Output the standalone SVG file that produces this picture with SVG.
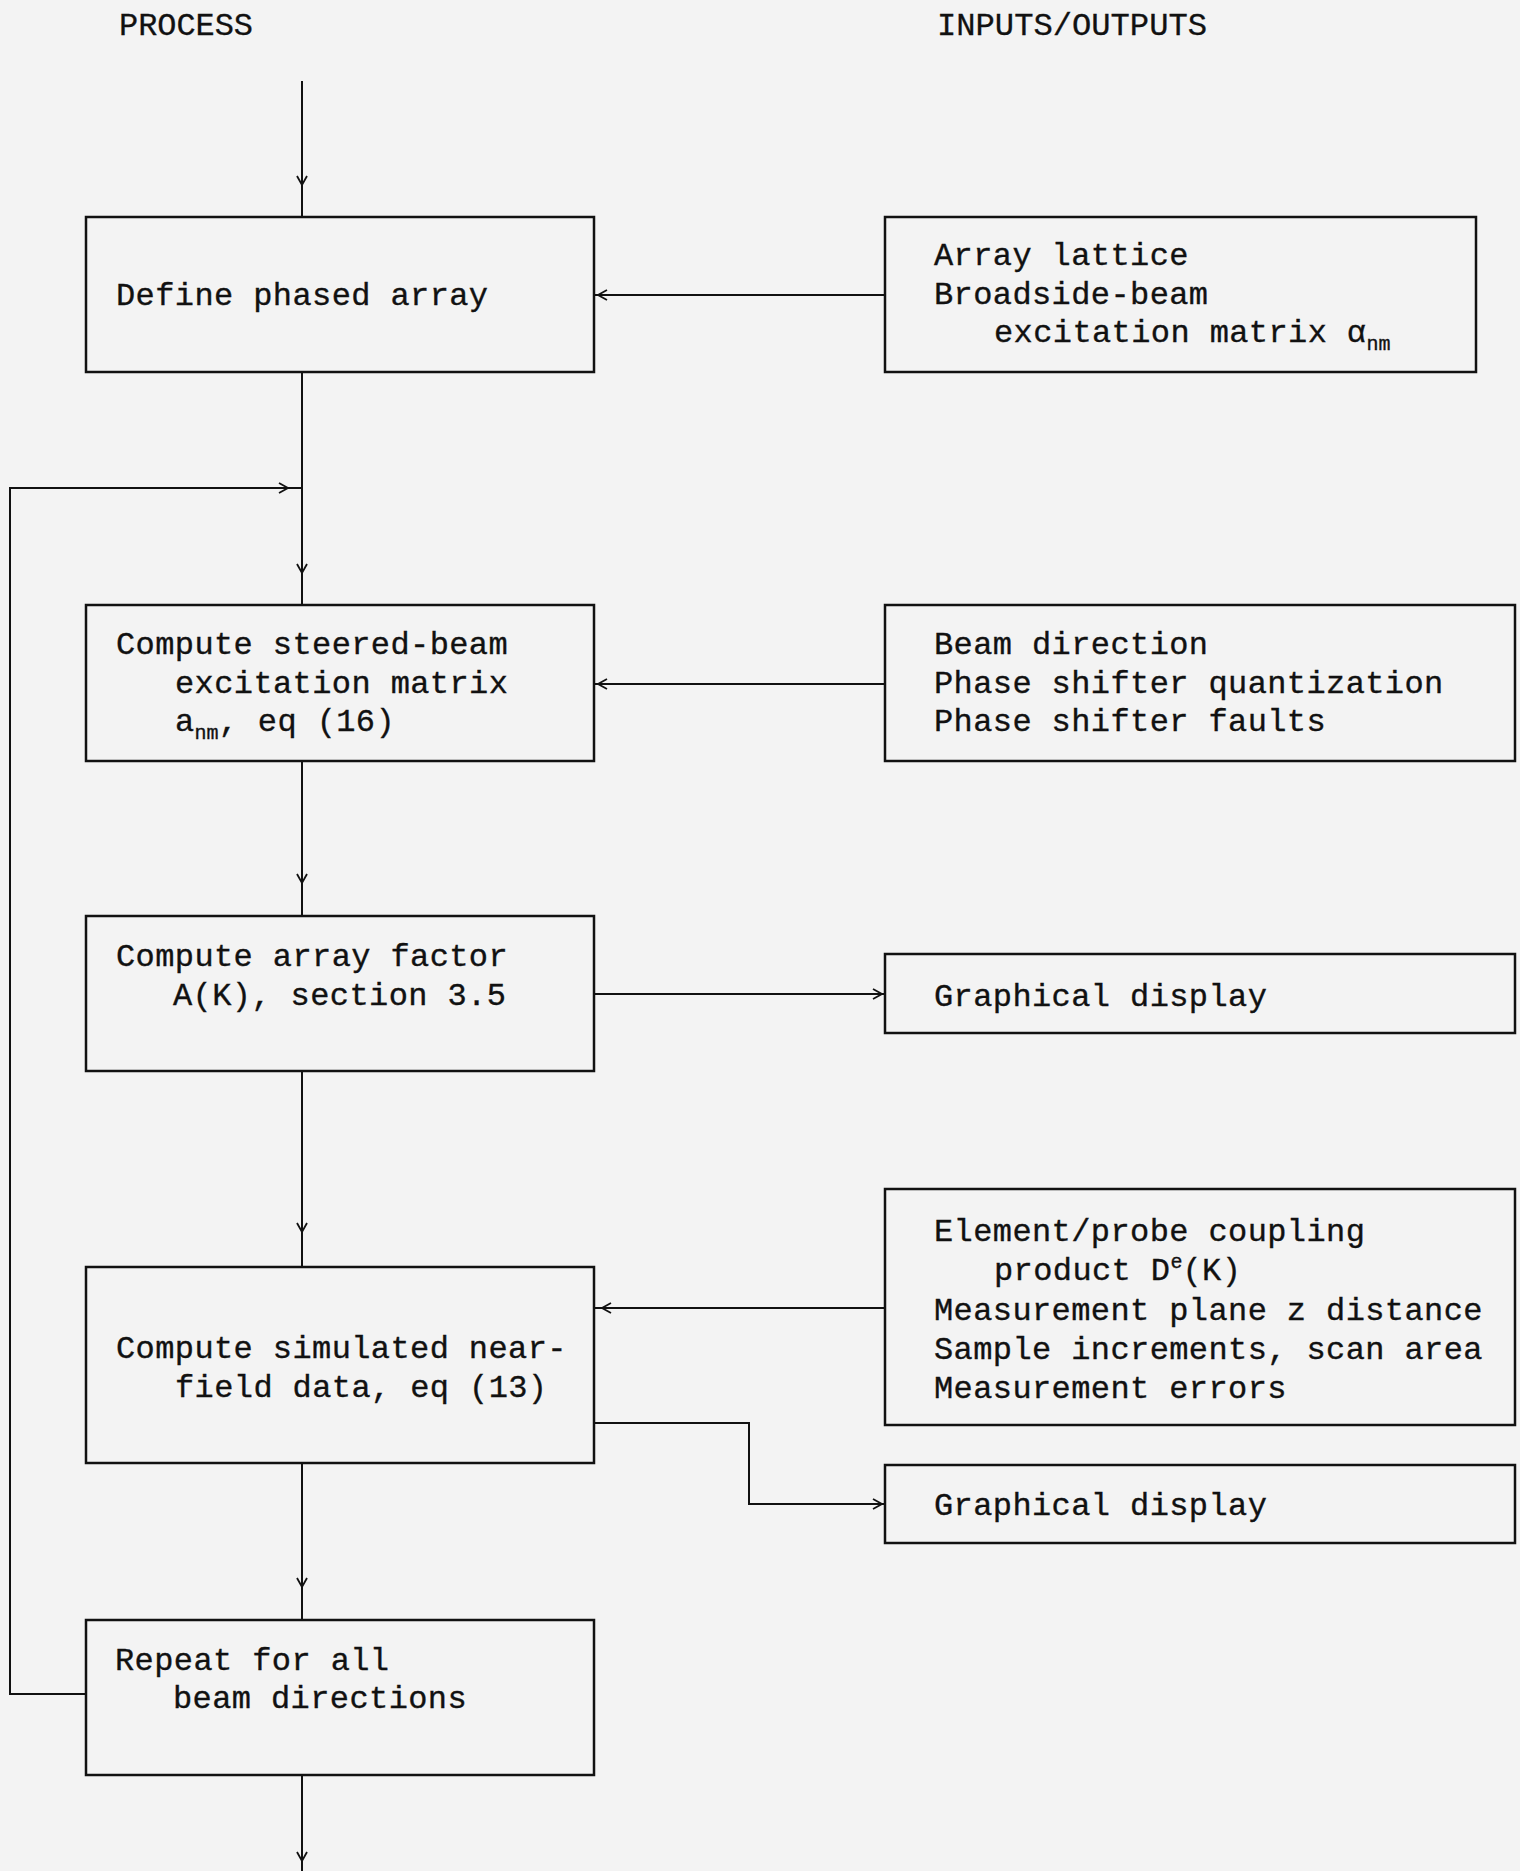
<svg xmlns="http://www.w3.org/2000/svg" width="1520" height="1871" viewBox="0 0 1520 1871">
<style>
.bg{fill:#f3f3f3}
.box{fill:none;stroke:#111;stroke-width:2.5}
.t{font-family:"Liberation Mono","DejaVu Sans Mono",monospace;font-size:32px;letter-spacing:0.4px;fill:#111;stroke:#111;stroke-width:0.35}
.h{font-family:"Liberation Mono","DejaVu Sans Mono",monospace;font-size:31px;fill:#111;stroke:#111;stroke-width:0.3}
.c{fill:none;stroke:#111;stroke-width:2}
.ah{fill:none;stroke:#111;stroke-width:1.8}
.s{font-size:20px;letter-spacing:0}
</style>
<defs>
<path id="ah" d="M-9,-5 L0,0 L-9,5"/>
</defs>
<rect class="bg" x="0" y="0" width="1520" height="1871"/>
<g id="headers">
<text class="h" x="119" y="35" textLength="134" lengthAdjust="spacingAndGlyphs">PROCESS</text>
<text class="h" x="937" y="35" textLength="270" lengthAdjust="spacingAndGlyphs">INPUTS/OUTPUTS</text>
</g>
<g id="connectors">
<path class="c" d="M302,81 V217"/>
<use href="#ah" class="ah" transform="translate(302,185) rotate(90)"/>
<path class="c" d="M302,372 V605"/>
<use href="#ah" class="ah" transform="translate(302,573) rotate(90)"/>
<path class="c" d="M86,1694 H10 V488 H302"/>
<use href="#ah" class="ah" transform="translate(288,488)"/>
<path class="c" d="M885,295 H594"/>
<use href="#ah" class="ah" transform="translate(598,295) rotate(180)"/>
<path class="c" d="M885,684 H594"/>
<use href="#ah" class="ah" transform="translate(598,684) rotate(180)"/>
<path class="c" d="M302,761 V916"/>
<use href="#ah" class="ah" transform="translate(302,883) rotate(90)"/>
<path class="c" d="M594,994 H885"/>
<use href="#ah" class="ah" transform="translate(882,994)"/>
<path class="c" d="M302,1071 V1267"/>
<use href="#ah" class="ah" transform="translate(302,1232) rotate(90)"/>
<path class="c" d="M885,1308 H594"/>
<use href="#ah" class="ah" transform="translate(602,1308) rotate(180)"/>
<path class="c" d="M594,1423 H749 V1504 H885"/>
<use href="#ah" class="ah" transform="translate(882,1504)"/>
<path class="c" d="M302,1463 V1620"/>
<use href="#ah" class="ah" transform="translate(302,1587) rotate(90)"/>
<path class="c" d="M302,1775 V1871"/>
<use href="#ah" class="ah" transform="translate(302,1861) rotate(90)"/>
</g>
<g id="define">
<rect class="box" x="86" y="217" width="508" height="155"/>
<text class="t" x="116" y="305">Define phased array</text>
</g>
<g id="in-lattice">
<rect class="box" x="885" y="217" width="591" height="155"/>
<text class="t" x="934" y="265">Array lattice</text>
<text class="t" x="934" y="304">Broadside-beam</text>
<text class="t" x="994" y="342">excitation matrix α<tspan class="s" dy="8">nm</tspan></text>
</g>
<g id="steer">
<rect class="box" x="86" y="605" width="508" height="156"/>
<text class="t" x="116" y="654">Compute steered-beam</text>
<text class="t" x="175" y="693">excitation matrix</text>
<text class="t" x="175" y="731">a<tspan class="s" dy="8">nm</tspan><tspan dy="-8">, eq (16)</tspan></text>
</g>
<g id="in-beam">
<rect class="box" x="885" y="605" width="630" height="156"/>
<text class="t" x="934" y="654">Beam direction</text>
<text class="t" x="934" y="693">Phase shifter quantization</text>
<text class="t" x="934" y="731">Phase shifter faults</text>
</g>
<g id="arrayfactor">
<rect class="box" x="86" y="916" width="508" height="155"/>
<text class="t" x="116" y="966">Compute array factor</text>
<text class="t" x="173" y="1005">A(K), section 3.5</text>
</g>
<g id="out-display1">
<rect class="box" x="885" y="954" width="630" height="79"/>
<text class="t" x="934" y="1006">Graphical display</text>
</g>
<g id="nearfield">
<rect class="box" x="86" y="1267" width="508" height="196"/>
<text class="t" x="116" y="1358">Compute simulated near-</text>
<text class="t" x="175" y="1397">field data, eq (13)</text>
</g>
<g id="in-measure">
<rect class="box" x="885" y="1189" width="630" height="236"/>
<text class="t" x="934" y="1241">Element/probe coupling</text>
<text class="t" x="994" y="1280">product D<tspan class="s" dy="-12">e</tspan><tspan dy="12">(K)</tspan></text>
<text class="t" x="934" y="1320">Measurement plane z distance</text>
<text class="t" x="934" y="1359">Sample increments, scan area</text>
<text class="t" x="934" y="1398">Measurement errors</text>
</g>
<g id="out-display2">
<rect class="box" x="885" y="1465" width="630" height="78"/>
<text class="t" x="934" y="1515">Graphical display</text>
</g>
<g id="repeat">
<rect class="box" x="86" y="1620" width="508" height="155"/>
<text class="t" x="115" y="1670">Repeat for all</text>
<text class="t" x="173" y="1708">beam directions</text>
</g>
</svg>
